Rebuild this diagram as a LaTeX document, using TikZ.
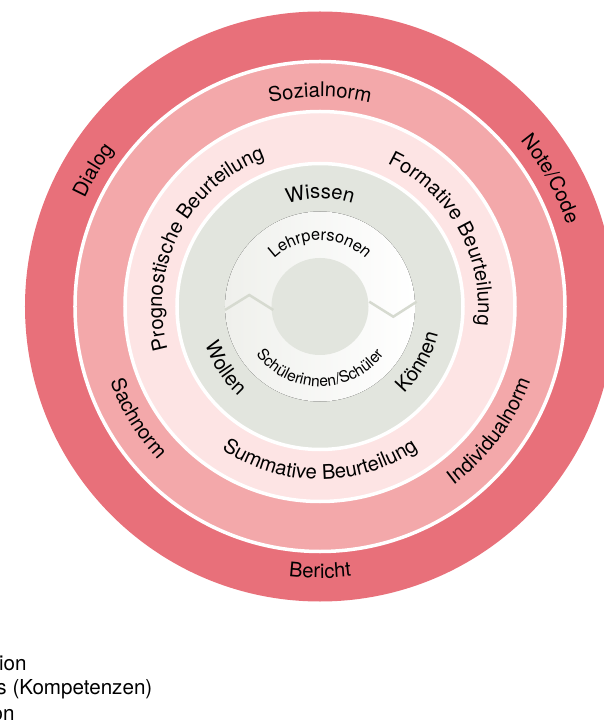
\documentclass[tikz,border=0pt]{standalone}
\usepackage{fontspec}
\setmainfont{TeX Gyre Heros}
\usetikzlibrary{decorations.text}

\definecolor{outerred}{HTML}{E8707A}
\definecolor{midpink}{HTML}{F3A8AA}
\definecolor{lightpink}{HTML}{FDE4E4}
\definecolor{sage}{HTML}{E2E5DE}
\definecolor{sageline}{HTML}{D6DAD0}
\definecolor{paleshade}{HTML}{EFF0EC}

\newcommand{\ringfont}{\fontsize{10.1}{12}\selectfont}
\newcommand{\innerfont}{\fontsize{8.2}{10}\selectfont}
\newcommand{\smallfont}{\fontsize{7.8}{9}\selectfont}
\newcommand{\legendfont}{\fontsize{10.3}{12}\selectfont}

\begin{document}
\begin{tikzpicture} [
    x = 0.5pt, y = 0.5pt,
    arclabel/.style = {decorate, decoration = {text along path, text align = center, text = {#1}}},
    gap/.style = {draw = white, line width = 1.75pt},
    zigzag/.style = {draw = sageline, line width = 1.25pt, line join = miter},
    legend/.style = {anchor = base east, inner sep = 0pt, font = \legendfont}
]
\useasboundingbox (-320, -421.5) rectangle (284, 306.5);

% rings
\fill [outerred] (0,0) circle (295);
\fill [midpink] (0,0) circle (245);
\fill [lightpink] (0,0) circle (195);
\fill [sage] (0,0) circle (143);
\fill [left color = paleshade, right color = white] (0,0) circle (95);
\fill [sage] (0,0) circle (48.5);
\draw [gap] (0,0) circle (245);
\draw [gap] (0,0) circle (195);
\draw [gap] (0,0) circle (143);

% zigzag between Lehrpersonen and Schuelerinnen
\coordinate (zl1) at (-95, -3.5);
\coordinate (zl2) at (-70.7, 11.5);
\coordinate (zl3) at (-46.7, -3.5);
\coordinate (zr1) at (49.3, 4.8);
\coordinate (zr2) at (73.3, -10.2);
\coordinate (zr3) at (96.7, 4.8);
\draw [zigzag] (zl1) -- (zl2) -- (zl3);
\draw [zigzag] (zr1) -- (zr2) -- (zr3);

% outer ring
\path [arclabel = {|\ringfont|Dialog}] (209:259) arc [start angle = 209, end angle = 89, radius = 259];
\path [arclabel = {|\ringfont|Note/Code}] (89:260) arc [start angle = 89, end angle = -31, radius = 260];
\path [arclabel = {|\ringfont|Bericht}] (210:271.5) arc [start angle = 210, end angle = 330, radius = 271.5];

% norms
\path [arclabel = {|\ringfont|Sozialnorm}] (150:209.5) arc [start angle = 150, end angle = 30, radius = 209.5];
\path [arclabel = {|\ringfont|Sachnorm}] (151.6:223) arc [start angle = 151.6, end angle = 271.6, radius = 223];
\path [arclabel = {|\ringfont|Individualnorm}] (-96.3:223) arc [start angle = -96.3, end angle = 23.7, radius = 223];

% Beurteilung
\path [arclabel = {|\ringfont|Prognostische Beurteilung}] (213:158) arc [start angle = 213, end angle = 93, radius = 158];
\path [arclabel = {|\ringfont|Formative Beurteilung}] (89:158) arc [start angle = 89, end angle = -31, radius = 158];
\path [arclabel = {|\ringfont|Summative Beurteilung}] (210:173) arc [start angle = 210, end angle = 330, radius = 173];

% Wissen, Wollen, Koennen
\path [arclabel = {|\ringfont|Wissen}] (150:108) arc [start angle = 150, end angle = 30, radius = 108];
\path [arclabel = {|\ringfont|Wollen}] (153:121) arc [start angle = 153, end angle = 273, radius = 121];
\path [arclabel = {|\ringfont|Können}] (-89.5:121) arc [start angle = -89.5, end angle = 30.5, radius = 121];

% inner ring
\path [arclabel = {|\innerfont|Lehrpersonen}] (150:66) arc [start angle = 150, end angle = 30, radius = 66];
\path [arclabel = {|\smallfont|Schülerinnen/Schüler}] (210:80) arc [start angle = 210, end angle = 330, radius = 80];

% legend
\node (legend1) [legend] at (-293, -363.5) {ion};
\node (legend2) [legend] at (-167.3, -387.5) {s (Kompetenzen)};
\node (legend3) [legend] at (-305, -413.5) {on};

\end{tikzpicture}
\end{document}
